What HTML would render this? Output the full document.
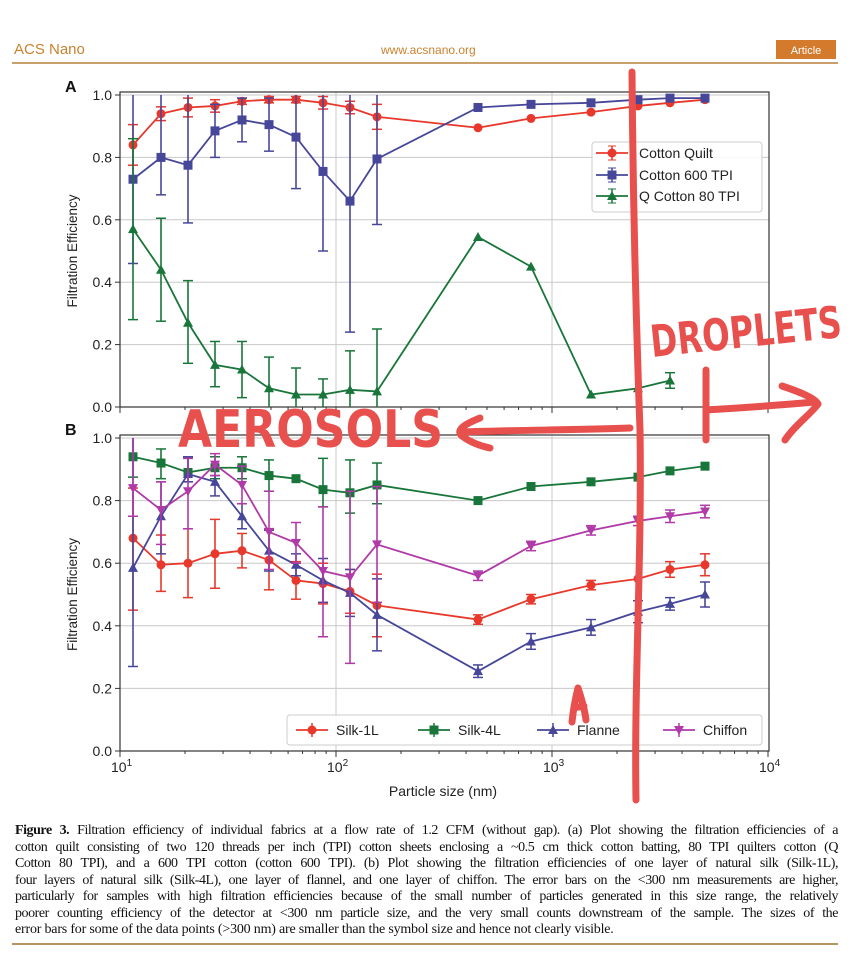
<!DOCTYPE html>
<html><head><meta charset="utf-8">
<style>
html,body{margin:0;padding:0;background:#fff;}
body{width:853px;height:960px;overflow:hidden;position:relative;font-family:"Liberation Sans",sans-serif;}
.cap{position:absolute;left:15px;top:823px;width:823px;font-family:"Liberation Serif",serif;font-size:14px;line-height:16.5px;color:#111;}
.cap div{white-space:nowrap;text-align:justify;text-align-last:justify;width:823px;letter-spacing:-0.45px;word-spacing:-0.5px;}
.cap div.l{text-align-last:left;letter-spacing:-0.2px;word-spacing:0;}
</style></head><body>
<svg id="s" width="853" height="960" viewBox="0 0 853 960" xmlns="http://www.w3.org/2000/svg" style="position:absolute;left:0;top:0">
<text x="14" y="54" font-family="Liberation Sans,sans-serif" font-size="15" fill="#c9822f">ACS Nano</text>
<text x="381" y="54" font-family="Liberation Sans,sans-serif" font-size="12" fill="#c9822f">www.acsnano.org</text>
<rect x="776" y="40" width="60" height="19" fill="#d37a2c"/>
<text x="806" y="54" text-anchor="middle" font-family="Liberation Sans,sans-serif" font-size="11" fill="#fff">Article</text>
<rect x="12" y="62" width="826" height="2" fill="#c9a06c"/>
<rect x="12" y="943" width="826" height="2" fill="#b59560"/>
</svg>
<div class="cap">
<div><b>Figure 3.</b> Filtration efficiency of individual fabrics at a flow rate of 1.2 CFM (without gap). (a) Plot showing the filtration efficiencies of a</div>
<div>cotton quilt consisting of two 120 threads per inch (TPI) cotton sheets enclosing a ~0.5 cm thick cotton batting, 80 TPI quilters cotton (Q</div>
<div>Cotton 80 TPI), and a 600 TPI cotton (cotton 600 TPI). (b) Plot showing the filtration efficiencies of one layer of natural silk (Silk-1L),</div>
<div>four layers of natural silk (Silk-4L), one layer of flannel, and one layer of chiffon. The error bars on the &lt;300 nm measurements are higher,</div>
<div>particularly for samples with high filtration efficiencies because of the small number of particles generated in this size range, the relatively</div>
<div>poorer counting efficiency of the detector at &lt;300 nm particle size, and the very small counts downstream of the sample. The sizes of the</div>
<div class="l">error bars for some of the data points (&gt;300 nm) are smaller than the symbol size and hence not clearly visible.</div>
</div>
<script>
const s=document.getElementById('s');let h='';
const X=[133,161,188,215,242,269,296,323,350,377,478,531,591,638,670,705];
const L=120,R=769;
function panel(top0,y0,ylab,label,series,isB){
  const Y=v=>y0-(y0-top0)*v;
  for(let v=0;v<=1.001;v+=0.2){const y=Y(v);h+=`<line x1="${L}" x2="${R}" y1="${y}" y2="${y}" stroke="#c8c8c8" stroke-width="1"/>`;
   h+=`<line x1="${L-5}" x2="${L}" y1="${y}" y2="${y}" stroke="#333"/>`;
   h+=`<text x="${L-8}" y="${y+5}" text-anchor="end" font-size="14" fill="#222">${v.toFixed(1)}</text>`;}
  for(const gx of [336,552]) h+=`<line x1="${gx}" x2="${gx}" y1="${top0-3}" y2="${y0}" stroke="#c8c8c8"/>`;
  for(let d=0;d<3;d++)for(let k=2;k<10;k++){const x=120+216*(d+Math.log10(k));h+=`<line x1="${x}" x2="${x}" y1="${y0}" y2="${y0+3}" stroke="#333"/>`;}
  for(const x of [120,336,552,768])h+=`<line x1="${x}" x2="${x}" y1="${y0}" y2="${y0+6}" stroke="#333"/>`;
  h+=`<rect x="${L}" y="${top0-3}" width="${R-L}" height="${y0-top0+3}" fill="none" stroke="#333" stroke-width="1.2"/>`;
  h+=`<text x="${L-55}" y="${top0-3}" font-size="16" font-weight="bold" fill="#111">${label}</text>`;
  h+=`<text transform="translate(77,${(top0+y0)/2}) rotate(-90)" text-anchor="middle" font-size="13.5" fill="#222">Filtration Efficiency</text>`;
  for(const sr of series){
    const pts=sr.v.map((v,i)=>[X[i],Y(v)]);
    sr.e.forEach((e,i)=>{if(!e)return;const lo=Y(Math.max(0,e[0])),hi=Y(Math.min(1,e[1]));const x=X[i];
      h+=`<line x1="${x}" x2="${x}" y1="${lo}" y2="${hi}" stroke="${sr.c}" stroke-width="1.6"/>`;
      if(e[0]>0)h+=`<line x1="${x-5}" x2="${x+5}" y1="${lo}" y2="${lo}" stroke="${sr.c}" stroke-width="1.5"/>`;
      if(e[1]<1)h+=`<line x1="${x-5}" x2="${x+5}" y1="${hi}" y2="${hi}" stroke="${sr.c}" stroke-width="1.5"/>`;});
    h+=`<polyline points="${pts.map(p=>p.join(',')).join(' ')}" fill="none" stroke="${sr.c}" stroke-width="1.8"/>`;
    pts.forEach(p=>h+=mk(sr.m,p[0],p[1],sr.c));
  }
}
function mk(m,x,y,c){
  if(m=='o')return `<circle cx="${x}" cy="${y}" r="4.5" fill="${c}"/>`;
  if(m=='s')return `<rect x="${x-4.5}" y="${y-4.5}" width="9" height="9" fill="${c}"/>`;
  if(m=='^')return `<polygon points="${x},${y-5} ${x+5},${y+4} ${x-5},${y+4}" fill="${c}"/>`;
  return `<polygon points="${x},${y+5} ${x+5},${y-4} ${x-5},${y-4}" fill="${c}"/>`;
}
const red='#e8382c',blu='#47479a',grn='#19763a',mag='#b03aa8';
const ee=(v,a)=>v.map((x,i)=>a[i]==null?null:[x-a[i],x+a[i]]);
panel(95,407,'','A',[
 {c:red,m:'o',v:[.84,.94,.96,.965,.98,.985,.985,.975,.96,.93,.895,.925,.945,.965,.975,.985],e:ee([.84,.94,.96,.965,.98,.985,.985,.975,.96,.93],[.065,.022,.03,.02,.01,.01,.01,.02,.02,.04])},
 {c:blu,m:'s',v:[.73,.80,.775,.885,.92,.905,.865,.755,.66,.795,.96,.97,.975,.985,.99,.99],e:[[.46,1],[.68,1],[.59,1],[.80,.97],[.85,.99],[.82,.99],[.70,1],[.50,1],[.24,1],[.585,1]]},
 {c:grn,m:'^',v:[.57,.44,.27,.135,.12,.06,.04,.04,.055,.05,.545,.45,.04,.06,.085],e:[[.28,.86],[.275,.605],[.14,.405],[.065,.21],[.03,.21],[0,.16],[0,.125],[0,.09],[0,.18],[0,.25],null,null,null,null,[.06,.11]]}
]);
panel(438,751,'','B',[
 {c:grn,m:'s',v:[.94,.92,.89,.905,.905,.88,.87,.835,.825,.85,.80,.845,.86,.875,.895,.91],e:[[.875,1],[.87,.965],[.86,.935],[.87,.94],[.87,.94],[.83,.93],null,[.78,.935],[.76,.93],[.79,.92]]},
 {c:red,m:'o',v:[.68,.595,.60,.63,.64,.61,.545,.535,.51,.465,.42,.485,.53,.55,.58,.595],e:[[.45,.84],[.51,.69],[.49,.71],[.52,.74],[.585,.695],[.515,.71],[.485,.605],[.47,.6],[.44,.58],[.365,.565],[.405,.435],[.47,.5],[.515,.545],null,[.555,.605],[.56,.63]]},
 {c:blu,m:'^',v:[.585,.75,.885,.86,.75,.64,.595,.545,.505,.435,.255,.35,.395,.445,.47,.50],e:[[.27,1],[.63,.86],[.86,.94],[.815,.88],[.71,.79],[.575,.705],[.56,.63],[.475,.615],[.43,.58],[.32,.55],[.235,.275],[.325,.375],[.37,.42],[.41,.48],[.45,.49],[.46,.54]]},
 {c:mag,m:'v',v:[.84,.77,.83,.915,.85,.70,.665,.575,.555,.66,.56,.655,.705,.735,.75,.765],e:[[.75,1],[.66,.86],[.71,.935],[.88,.95],[.79,.91],[.58,.83],[.6,.73],[.365,.78],[.28,.83],[.475,.845],[.545,.575],[.64,.67],[.69,.72],[.72,.75],[.73,.77],[.745,.785]]}
]);
[[120,'1'],[336,'2'],[552,'3'],[768,'4']].forEach(([x,e])=>h+=`<text x="${x-9}" y="772" font-size="14" fill="#222">10<tspan dy="-6" font-size="10">${e}</tspan></text>`);
h+=`<text x="443" y="796" text-anchor="middle" font-size="14" fill="#222">Particle size (nm)</text>`;
h+=`<rect x="592" y="142" width="170" height="70" rx="3" fill="#fff" fill-opacity="0.9" stroke="#ccc"/>`;
[['Cotton Quilt',red,'o',153],['Cotton 600 TPI',blu,'s',175],['Q Cotton 80 TPI',grn,'^',196]].forEach(([t,c,m,y])=>{
 h+=`<line x1="596" x2="628" y1="${y}" y2="${y}" stroke="${c}" stroke-width="1.8"/><line x1="612" x2="612" y1="${y-7}" y2="${y+7}" stroke="${c}" stroke-width="1.5"/><line x1="608" x2="616" y1="${y-7}" y2="${y-7}" stroke="${c}"/><line x1="608" x2="616" y1="${y+7}" y2="${y+7}" stroke="${c}"/>`+mk(m,612,y,c);
 h+=`<text x="639" y="${y+5}" font-size="14" fill="#222">${t}</text>`;});
h+=`<rect x="287" y="715" width="475" height="30" rx="3" fill="#fff" fill-opacity="0.9" stroke="#ccc"/>`;
[['Silk-1L',red,'o',296],['Silk-4L',grn,'s',418],['Flanne',blu,'^',537],['Chiffon',mag,'v',663]].forEach(([t,c,m,x])=>{
 const y=730;h+=`<line x1="${x}" x2="${x+32}" y1="${y}" y2="${y}" stroke="${c}" stroke-width="1.8"/><line x1="${x+16}" x2="${x+16}" y1="${y-7}" y2="${y+7}" stroke="${c}" stroke-width="1.5"/>`+mk(m,x+16,y,c);
 h+=`<text x="${x+40}" y="${y+5}" font-size="14" fill="#222">${t}</text>`;});
const P='#e8504e';
h+=`<g stroke="${P}" stroke-width="7" fill="none" stroke-linecap="round" stroke-linejoin="round">
<path d="M632,72 C633,200 636,320 640,430 C642,560 634,680 636,800"/>
<path d="M460,432 C520,430 580,430 630,428"/>
<path d="M480,418 C465,424 455,430 462,436 C470,442 480,446 490,448"/>
<path d="M706,370 L706,440"/>
<path d="M706,410 C740,408 770,406 815,402"/>
<path d="M782,386 C800,392 815,398 818,404 C810,415 795,425 785,440"/>
<path d="M578,688 C575,700 573,712 572,722 M578,688 C582,700 585,712 586,720 M574,708 L584,706"/>
</g>`;
h+=`<text x="178" y="447" font-family="DejaVu Sans,sans-serif" font-size="52" font-weight="bold" fill="${P}" textLength="265" lengthAdjust="spacingAndGlyphs">AEROSOLS</text>`;
h+=`<text x="652" y="357" font-family="DejaVu Sans,sans-serif" font-size="44" font-weight="bold" fill="${P}" textLength="192" lengthAdjust="spacingAndGlyphs" transform="rotate(-6 652 357)">DROPLETS</text>`;
s.innerHTML+=`<g font-family="Liberation Sans,DejaVu Sans,sans-serif">${h}</g>`;
</script>
</body></html>
